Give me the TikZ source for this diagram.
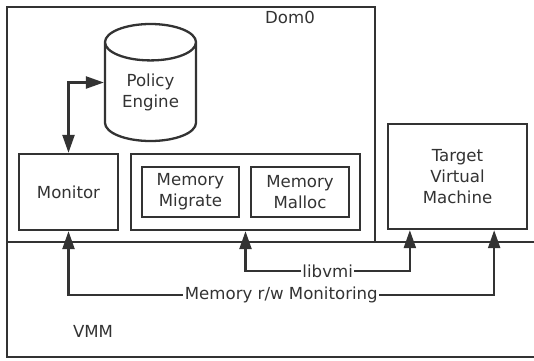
\documentclass[tikz,border=0pt]{standalone}
\usepackage{fontspec}
\setmainfont{DejaVu Sans}
\usetikzlibrary{shapes.geometric,arrows.meta}
\definecolor{boxgray}{HTML}{333333}
\tikzset{
  box/.style={draw=boxgray, line width=2.3pt, inner sep=0pt, align=center, text=boxgray},
  wire/.style={draw=boxgray, line width=2.3pt, >={Triangle[length=18pt,width=12pt]}},
  lbl/.style={fill=white, inner sep=1.5pt, text=boxgray},
}

\begin{document}
\begin{tikzpicture}[x=1pt,y=-1pt,font=\fontsize{16.6}{21}\selectfont]
    \clip (0,0) rectangle (534,360);
    \fill[white] (0,0) rectangle (534,360);
    % Dom0 and VMM
    \draw[box] (7,7) rectangle (375,242);
    \draw[box] (7,242) rectangle (560,357);
    \node[text=boxgray] (dom0) at (290,17) {Dom0};
    \node[text=boxgray] (vmm) at (93,331) {VMM};
    % components
    \node[box, shape=cylinder, shape border rotate=90, aspect=0.64, anchor=shape center,
          minimum width=91pt, minimum height=117pt] (pe) at (150.5,82.5) {Policy\\Engine};
    \node[box, minimum width=99pt, minimum height=76pt] (mon) at (68.5,192) {Monitor};
    \node[box, minimum width=229pt, minimum height=76pt] (mem) at (245.5,192) {};
    \node[box, minimum width=97pt, minimum height=50pt] (migrate) at (190.5,192) {Memory\\Migrate};
    \node[box, minimum width=98pt, minimum height=50pt] (malloc) at (300,192) {Memory\\Malloc};
    \node[box, minimum width=139pt, minimum height=105pt] (tvm) at (457.5,176.5) {Target\\Virtual\\Machine};
    % connectors
    \coordinate (tvmA) at ([xshift=23pt]tvm.south west);
    \coordinate (tvmB) at ([xshift=-34pt]tvm.south east);
    \coordinate (libbus) at (0,271);
    \coordinate (rwbus) at (0,295);
    \draw[wire,<->] (pe.west |- pe.shape center) -| (mon.north);
    \draw[wire,<->] (mem.south) -- (mem.south |- libbus) -- node[lbl] {libvmi} (tvmA |- libbus) -- (tvmA);
    \draw[wire,<->] (mon.south) -- (mon.south |- rwbus) -- node[lbl] {Memory r/w Monitoring} (tvmB |- rwbus) -- (tvmB);
\end{tikzpicture}
\end{document}
